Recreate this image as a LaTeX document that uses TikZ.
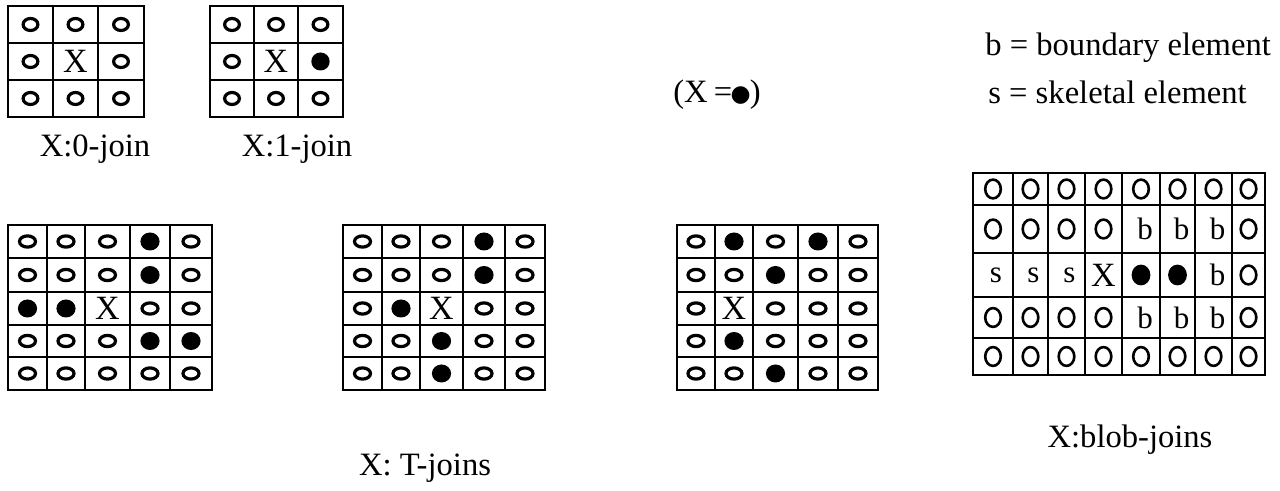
\documentclass[tikz,border=0pt]{standalone}
\usepackage{fontspec}
\setmainfont{Liberation Serif}
\newfontfamily\symfont{DejaVu Sans}
\usetikzlibrary{shapes.geometric}

% ruling of a grid: #1 column lines, #2 row lines, #3/#4 left/right, #5/#6 top/bottom
\newcommand\gridlines[6]{%
  \foreach \gx in {#1} \draw[gridline] (\gx,#5) -- (\gx,#6);
  \foreach \gy in {#2} \draw[gridline] (#3,\gy) -- (#4,\gy);
}
% contents of a grid: #1 name prefix, #2 column centres, #3 row centres, #4 rows of cell styles
\newcommand\gridcells[4]{%
  \foreach \rw [count=\j] in {#4} {
    \foreach \c [count=\i] in \rw {
      \pgfmathsetmacro\cx{{#2}[\i-1]}
      \pgfmathsetmacro\cy{{#3}[\j-1]}
      \node (#1-\j-\i) at (\cx,\cy) [\c];
    }
  }
}

\begin{document}
\begin{tikzpicture}[x=0.5pt,y=-0.5pt,
  gridline/.style={line width=1.4pt, line cap=rect},
  % small 3x3 grids
  sO/.style={ellipse, draw, line width=1.6pt, inner sep=0pt, minimum width=7.4pt, minimum height=6pt, node contents={}},
  sF/.style={ellipse, fill=black, inner sep=0pt, minimum width=9.2pt, minimum height=9pt, node contents={}},
  % 5x5 grids
  mO/.style={ellipse, draw, line width=1.6pt, inner sep=0pt, minimum width=8pt, minimum height=5.6pt, node contents={}},
  mF/.style={ellipse, fill=black, inner sep=0pt, minimum width=9.6pt, minimum height=9pt, node contents={}},
  % blob grid
  bO/.style={ellipse, draw, line width=1.3pt, inner sep=0pt, minimum width=7.8pt, minimum height=9.4pt, node contents={}},
  bF/.style={ellipse, fill=black, inner sep=0pt, minimum width=9.4pt, minimum height=10.4pt, node contents={}},
  cX/.style={inner sep=0pt, font=\fontsize{17}{17}\selectfont, node contents=X},
  cB/.style={inner sep=0pt, xshift=2pt, font=\fontsize{15.5}{15.5}\selectfont, node contents=b},
  cS/.style={inner sep=0pt, xshift=1.5pt, font=\fontsize{15.5}{15.5}\selectfont, node contents=s},
  lbl/.style={inner sep=0pt, font=\fontsize{16.3}{20}\selectfont}]
\useasboundingbox (0,0) rectangle (1280,491);

% X:0-join
\gridlines{8,53,98,144}{6,43,80,117}{8}{144}{6}{117}
\gridcells{za}{30.5,75.5,121}{24.5,61.5,98.5}{{sO,sO,sO},{sO,cX,sO},{sO,sO,sO}}
\node[lbl, anchor=base] (labzero) at (95,157) {X:0-join};

% X:1-join
\gridlines{210,254,298,343}{6,43,80,117}{210}{343}{6}{117}
\gridcells{zb}{232,276,320.5}{24.5,61.5,98.5}{{sO,sO,sO},{sO,cX,sF},{sO,sO,sO}}
\node[lbl, anchor=base] (labone) at (297,157) {X:1-join};

% T-joins
\gridlines{8,47,85,130,170,212}{225,258,292,325,357,390}{8}{212}{225}{390}
\gridcells{ta}{27.5,66,107.5,150,191}{241.5,275,308.5,341,373.5}{%
  {mO,mO,mO,mF,mO},{mO,mO,mO,mF,mO},{mF,mF,cX,mO,mO},{mO,mO,mO,mF,mF},{mO,mO,mO,mO,mO}}

\gridlines{343,382,420,463,505,545}{225,258,292,325,357,390}{343}{545}{225}{390}
\gridcells{tb}{362.5,401,441.5,484,525}{241.5,275,308.5,341,373.5}{%
  {mO,mO,mO,mF,mO},{mO,mO,mO,mF,mO},{mO,mF,cX,mO,mO},{mO,mO,mF,mO,mO},{mO,mO,mF,mO,mO}}

\gridlines{677,715,753,798,838,878}{225,258,292,325,357,390}{677}{878}{225}{390}
\gridcells{tc}{696,734,775.5,818,858}{241.5,275,308.5,341,373.5}{%
  {mO,mF,mO,mF,mO},{mO,mO,mF,mO,mO},{mO,cX,mO,mO,mO},{mO,mF,mO,mO,mO},{mO,mO,mF,mO,mO}}

\node[lbl, anchor=base] (labT) at (425,476) {X: T-joins};

% key for the filled element
\node[lbl, anchor=base] (xkey) at (717,103) {(X\hspace{-1pt} =\hspace{-0.8pt}\raisebox{0.5pt}{\symfont\fontsize{11.5}{11.5}\selectfont ●}\hspace{-0.5pt})};

% legend
\node[lbl, anchor=base west] (legb) at (985,56) {b = boundary element};
\node[lbl, anchor=base west] (legs) at (988,104) {s = skeletal element};

% blob-joins
\gridlines{973,1013,1048,1085,1122,1160,1195,1232,1265}{173,205,253,297,338,375}{973}{1265}{173}{375}
\gridcells{bl}{993,1030.5,1066.5,1103.5,1141,1177.5,1213.5,1248.5}{189,229,275,317.5,356.5}{%
  {bO,bO,bO,bO,bO,bO,bO,bO},
  {bO,bO,bO,bO,cB,cB,cB,bO},
  {cS,cS,cS,cX,bF,bF,cB,bO},
  {bO,bO,bO,bO,cB,cB,cB,bO},
  {bO,bO,bO,bO,bO,bO,bO,bO}}
\node[lbl, anchor=base] (labblob) at (1130,448) {X:blob-joins};
\end{tikzpicture}
\end{document}
